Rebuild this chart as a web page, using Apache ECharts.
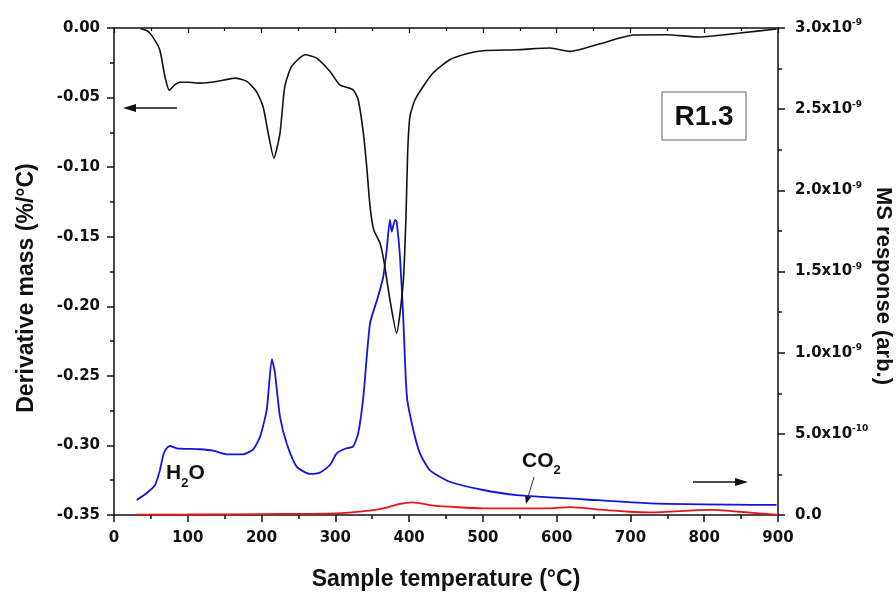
<!DOCTYPE html>
<html>
<head>
<meta charset="utf-8">
<script src="https://cdn.jsdelivr.net/npm/echarts@6/dist/echarts.min.js"></script>
<style>
  html, body { margin: 0; padding: 0; background: #fff; }
  #chart { width: 896px; height: 593px; }
</style>
</head>
<body>
<div id="chart"></div>
<script>
// derivative mass curve (left axis, %/°C)
const tempDM = [36, 45, 52, 62, 69, 75, 82, 89, 100, 117, 139, 164, 180, 193, 202, 209, 216.7, 225, 231.5, 240.8, 259, 274.7, 292.8, 306, 324, 331, 338, 342.5, 347, 352, 360.5, 366, 374, 383, 392, 395.8, 398, 401, 408, 419, 433, 455, 478, 500, 546, 591, 618, 659, 704, 749, 794, 848, 898];
const derivMass = [-0.0005, -0.002, -0.006, -0.0156, -0.0348, -0.0449, -0.041, -0.039, -0.039, -0.0396, -0.0384, -0.036, -0.0384, -0.0456, -0.0564, -0.0755, -0.0935, -0.0755, -0.042, -0.0276, -0.0192, -0.0216, -0.0312, -0.0408, -0.0444, -0.0516, -0.0755, -0.0995, -0.128, -0.145, -0.1546, -0.168, -0.1953, -0.2193, -0.183, -0.135, -0.09, -0.064, -0.0516, -0.042, -0.032, -0.0228, -0.0185, -0.0163, -0.0156, -0.0144, -0.0168, -0.0113, -0.005, -0.0048, -0.0065, -0.0036, -0.0007];

// MS response, in units of 1e-10 (right axis)
const MS_UNIT = 1e-10;
const tempH2O = [30.7, 44, 55.6, 62.3, 66.8, 71.4, 75.9, 85, 116.6, 134.6, 152.7, 175, 188.8, 198, 207, 214, 218, 225, 234, 247.6, 265.6, 279, 292.8, 301.8, 315, 324, 331, 338, 347, 358, 365, 369.6, 374, 376.4, 381, 383, 387.6, 392, 397, 405.7, 414.7, 428, 455, 500.5, 546, 636, 726, 898];
const msH2O = [0.92, 1.34, 1.85, 2.77, 3.70, 4.11, 4.25, 4.11, 4.05, 3.96, 3.74, 3.74, 4.05, 4.83, 6.47, 9.6, 8.8, 6.06, 4.42, 2.98, 2.53, 2.61, 3.08, 3.80, 4.11, 4.21, 5.03, 7.29, 11.8, 13.46, 14.69, 16.33, 18.18, 17.46, 18.18, 18.08, 15.92, 12.22, 7.29, 5.24, 3.80, 2.77, 2.05, 1.54, 1.23, 0.97, 0.72, 0.62];
const tempCO2 = [30, 100, 200, 300, 342.5, 365, 387.6, 403.5, 433, 455, 500, 591, 618, 659, 699, 726, 808, 848, 900];
const msCO2 = [0.02, 0.03, 0.06, 0.1, 0.25, 0.41, 0.68, 0.78, 0.58, 0.51, 0.41, 0.41, 0.49, 0.33, 0.2, 0.16, 0.31, 0.2, 0.0];

const TICK_FONT = 'DejaVu Sans';
const TITLE_FONT = '"Liberation Sans", Arial, sans-serif';

function pairs(xs, ys, k) {
    return xs.map(function (x, i) { return [x, ys[i] * (k || 1)]; });
}

function sciLabel(v) {
    if (Math.abs(v) < 1e-15) return '{b|0.0}';
    const e = Math.floor(Math.log10(v) + 1e-9);
    const m = v / Math.pow(10, e);
    return '{b|' + m.toFixed(1) + 'x10}{s|' + e + '}';
}

const axisLineStyle = { color: '#111', width: 1.5 };
const chart = echarts.init(document.getElementById('chart'));

const option = {
    animation: false,
    grid: { left: 114, right: 118, top: 28, bottom: 78 },
    xAxis: [
        {
            type: 'value', min: 0, max: 900, interval: 100,
            axisLine: { onZero: false, lineStyle: axisLineStyle },
            axisTick: { length: 7, lineStyle: axisLineStyle },
            minorTick: { show: true, splitNumber: 2, length: 4, lineStyle: axisLineStyle },
            axisLabel: { fontFamily: TICK_FONT, fontWeight: 'bold', fontSize: 15, color: '#111', margin: 16 },
            splitLine: { show: false }
        },
        {
            type: 'value', min: 0, max: 900, interval: 100, position: 'top',
            axisLine: { onZero: false, lineStyle: axisLineStyle },
            axisTick: { inside: true, length: 5, lineStyle: { color: '#111', width: 1.2 } },
            minorTick: { show: true, splitNumber: 2, length: 3, lineStyle: { color: '#111', width: 1.2 } },
            axisLabel: { show: false },
            splitLine: { show: false }
        }
    ],
    yAxis: [
        {
            type: 'value', min: -0.35, max: 0, interval: 0.05, position: 'left',
            axisLine: { show: true, onZero: false, lineStyle: axisLineStyle },
            axisTick: { show: true, length: 7, lineStyle: axisLineStyle },
            minorTick: { show: true, splitNumber: 2, length: 4, lineStyle: axisLineStyle },
            axisLabel: {
                fontFamily: TICK_FONT, fontWeight: 'bold', fontSize: 15, color: '#111', margin: 14,
                formatter: function (v) { return v.toFixed(2); }
            },
            splitLine: { show: false }
        },
        {
            type: 'value', min: 0, max: 3e-9, interval: 5e-10, position: 'right',
            axisLine: { show: true, onZero: false, lineStyle: axisLineStyle },
            axisTick: { show: true, length: 7, lineStyle: axisLineStyle },
            minorTick: { show: true, splitNumber: 2, length: 4, lineStyle: axisLineStyle },
            axisLabel: {
                margin: 17,
                formatter: sciLabel,
                rich: {
                    b: { fontFamily: TICK_FONT, fontWeight: 'bold', fontSize: 15, color: '#111' },
                    s: { fontFamily: TICK_FONT, fontWeight: 'bold', fontSize: 9, color: '#111', padding: [0, 0, 10, 0] }
                }
            },
            splitLine: { show: false }
        }
    ],
    series: [
        {
            name: 'CO2', type: 'line', xAxisIndex: 0, yAxisIndex: 1,
            data: pairs(tempCO2, msCO2, MS_UNIT),
            showSymbol: false, smooth: 0.3,
            lineStyle: { color: '#e8141c', width: 1.8 }
        },
        {
            name: 'H2O', type: 'line', xAxisIndex: 0, yAxisIndex: 1,
            data: pairs(tempH2O, msH2O, MS_UNIT),
            showSymbol: false, smooth: 0.2,
            lineStyle: { color: '#1414e0', width: 1.8 }
        },
        {
            name: 'DTG', type: 'line', xAxisIndex: 0, yAxisIndex: 0,
            data: pairs(tempDM, derivMass),
            showSymbol: false, smooth: 0.2,
            lineStyle: { color: '#111', width: 1.6 }
        }
    ],
    graphic: [
        // axis titles
        { type: 'text', x: 446, y: 580,
          style: { text: 'Sample temperature (°C)', font: 'bold 23px ' + TITLE_FONT, fill: '#111', align: 'center', verticalAlign: 'middle' } },
        { type: 'text', x: 27, y: 288, rotation: Math.PI / 2,
          style: { text: 'Derivative mass (%/°C)', font: 'bold 23px ' + TITLE_FONT, fill: '#111', align: 'center', verticalAlign: 'middle' } },
        { type: 'text', x: 883, y: 286, rotation: -Math.PI / 2,
          style: { text: 'MS response (arb.)', font: 'bold 22px ' + TITLE_FONT, fill: '#111', align: 'center', verticalAlign: 'middle' } },
        // sample label box
        { type: 'rect', shape: { x: 662, y: 92, width: 84, height: 48 },
          style: { fill: '#fff', stroke: '#666', lineWidth: 1 } },
        { type: 'text', x: 704, y: 117,
          style: { text: 'R1.3', font: 'bold 28px ' + TITLE_FONT, fill: '#111', align: 'center', verticalAlign: 'middle' } },
        // axis arrows
        { type: 'line', shape: { x1: 177, y1: 108, x2: 132, y2: 108 }, style: { stroke: '#111', lineWidth: 1.5 } },
        { type: 'polygon', shape: { points: [[123, 108], [136, 104], [136, 112]] }, style: { fill: '#111' } },
        { type: 'line', shape: { x1: 693, y1: 482, x2: 738, y2: 482 }, style: { stroke: '#111', lineWidth: 1.5 } },
        { type: 'polygon', shape: { points: [[748, 482], [735, 478], [735, 486]] }, style: { fill: '#111' } },
        // gas labels
        { type: 'text', x: 166, y: 473,
          style: { text: '{m|H}{s|2}{m|O}', verticalAlign: 'middle',
                   rich: { m: { font: 'bold 21px ' + TITLE_FONT, fill: '#111' },
                           s: { font: 'bold 13px ' + TITLE_FONT, fill: '#111', padding: [20, 0, 0, 0] } } } },
        { type: 'text', x: 522, y: 461,
          style: { text: '{m|CO}{s|2}', verticalAlign: 'middle',
                   rich: { m: { font: 'bold 21px ' + TITLE_FONT, fill: '#111' },
                           s: { font: 'bold 13px ' + TITLE_FONT, fill: '#111', padding: [18, 0, 0, 0] } } } },
        { type: 'line', shape: { x1: 534, y1: 477, x2: 528, y2: 497 }, style: { stroke: '#333', lineWidth: 1 } },
        { type: 'polygon', shape: { points: [[526, 504], [525, 495], [531, 497]] }, style: { fill: '#111' } }
    ]
};

chart.setOption(option);
</script>
</body>
</html>
